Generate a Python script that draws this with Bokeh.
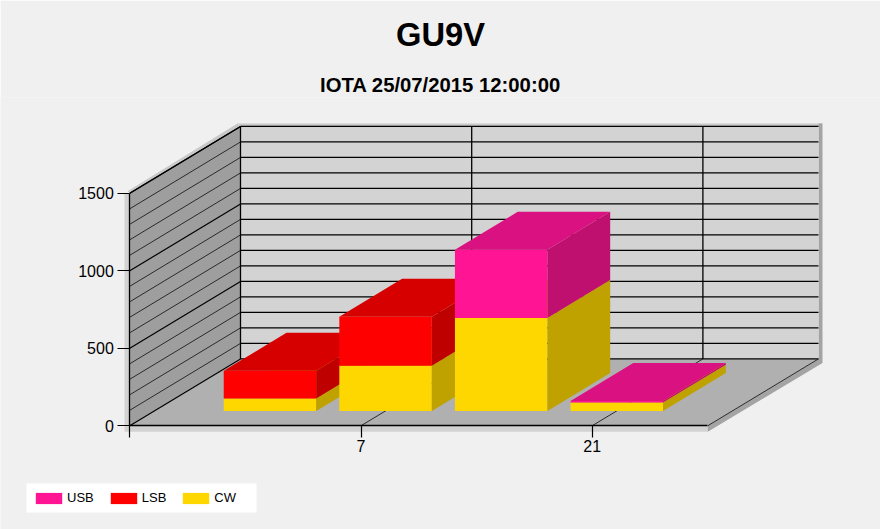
from bokeh.plotting import figure
from bokeh.models import Range1d, Legend, LegendItem, Title, FixedTicker
from bokeh.embed import file_html
from bokeh.resources import INLINE

# ---- data
series_names = ["USB", "LSB", "CW"]
series_colors = {"USB": "#ff1493", "LSB": "#ff0000", "CW": "#ffd700"}
top_colors = {"USB": "#da1180", "LSB": "#d70000", "CW": "#d9b700"}
side_colors = {"USB": "#bf0f6f", "LSB": "#bf0000", "CW": "#bfa100"}
band_pos = [1, 2, 3, 4]
cw = [80, 292, 600, 54]
lsb = [179, 316, 0, 0]
usb = [0, 0, 440, 10]
y_ticks = [0, 500, 1000, 1500]
y_minor = [100, 200, 300, 400, 600, 700, 800, 900, 1100, 1200, 1300, 1400]
x_ticks = [0, 2, 4]
x_labels = {0: "", 2: "7", 4: "21"}
title_text = "GU9V"
subtitle_text = "IOTA 25/07/2015 12:00:00"

# ---- layout of the oblique projection (page pixels)
FT = 96.0           # page y of the top of the plot frame
PXL, PXR, PYB = 0.0, 880.0, 529.0
X0, CATPX = 129.3, 115.6
Y0, VALPX = 425.0, 0.15533
DX, DY = 110.7, 67.0
NCAT = 5
YMAX = 1500
BARW, Z0, Z1 = 0.8, 0.222, 0.789
FONT = "Liberation Sans"

def ux(px):
    return (px - X0) / CATPX
def uy(py):
    return (Y0 - py) / VALPX
def px_(c, z=0.0):
    return c + z * DX / CATPX
def py_(v, z=0.0):
    return v + z * DY / VALPX

p = figure(width=880, height=529, toolbar_location=None, output_backend="svg",
           x_range=Range1d(ux(PXL), ux(PXR)), y_range=Range1d(uy(PYB), uy(FT)),
           min_border=0, background_fill_color="#f0f0f0", border_fill_color="#f0f0f0",
           outline_line_color=None)
p.grid.visible = False

p.add_layout(Title(text=subtitle_text, align="center", text_font=FONT, text_font_size="20.3px",
                   text_font_style="bold", text_color="black", standoff=4), "above")
p.add_layout(Title(text=title_text, align="center", text_font=FONT, text_font_size="32.7px",
                   text_font_style="bold", text_color="black", standoff=26, padding=(0, 0, 0, 4)), "above")

def poly(pts, color):
    return p.patch([a for a, _ in pts], [b for _, b in pts], fill_color=color, line_color=None)

def pxpoly(pts, color):
    return p.patch([ux(a) for a, _ in pts], [uy(b) for _, b in pts], fill_color=color, line_color=None)

# shaded rim
xr = X0 + NCAT * CATPX
pxpoly([(124, 192), (130, 192), (130, 425), (xr, 425), (xr, 431), (124, 431)], "#d2d2d2")
pxpoly([(127, 190), (237, 122), (240, 125), (130, 192)], "#c8c8c8")
pxpoly([(237, 122), (xr + DX + 4, 122), (xr + DX, 125), (240, 125)], "#c8c8c8")
pxpoly([(xr + DX, 122), (xr + DX + 4, 122), (xr + DX + 4, Y0 - DY + 4), (xr + 0, 431), (xr, 425), (xr + DX, Y0 - DY)], "#a4a4a4")

# walls and floor
poly([(px_(0), 0), (px_(0, 1), py_(0, 1)), (px_(NCAT, 1), py_(0, 1)), (px_(NCAT), 0)], "#b0b0b0")
poly([(px_(0), 0), (px_(0), YMAX), (px_(0, 1), py_(YMAX, 1)), (px_(0, 1), py_(0, 1))], "#9e9e9e")
poly([(px_(0, 1), py_(0, 1)), (px_(0, 1), py_(YMAX, 1)), (px_(NCAT, 1), py_(YMAX, 1)), (px_(NCAT, 1), py_(0, 1))], "#d3d3d3")

# grid
for v in y_minor + y_ticks:
    w = 1.2 if v in y_ticks else 1.0
    c = "black" if v in y_ticks else "#2a2a2a"
    p.line([px_(0), px_(0, 1)], [v, py_(v, 1)], line_color=c, line_width=w)
    p.line([px_(0, 1), px_(NCAT, 1)], [py_(v, 1), py_(v, 1)], line_color="black", line_width=1.3)
for c in x_ticks[1:]:
    p.line([px_(c), px_(c, 1)], [0, py_(0, 1)], line_color="#2a2a2a", line_width=1)
    p.line([px_(c, 1), px_(c, 1)], [py_(0, 1), py_(YMAX, 1)], line_color="black", line_width=1.3)
p.line([px_(0), px_(0, 1), px_(0, 1)], [YMAX, py_(YMAX, 1), py_(0, 1)], line_color="black", line_width=1.3)
p.line([px_(NCAT), px_(NCAT, 1)], [0, py_(0, 1)], line_color="#2a2a2a", line_width=1)

# stacked bars, painted from left to right
front = {}
for i, c in enumerate(band_pos):
    base = 0
    for name, val in (("CW", cw[i]), ("LSB", lsb[i]), ("USB", usb[i])):
        if val == 0:
            continue
        l, r = c - BARW / 2, c + BARW / 2
        t = base + val
        f = poly([(px_(l, Z0), py_(base, Z0)), (px_(l, Z0), py_(t, Z0)),
                  (px_(r, Z0), py_(t, Z0)), (px_(r, Z0), py_(base, Z0))], series_colors[name])
        front.setdefault(name, f)
        poly([(px_(r, Z0), py_(base, Z0)), (px_(r, Z0), py_(t, Z0)),
              (px_(r, Z1), py_(t, Z1)), (px_(r, Z1), py_(base, Z1))], side_colors[name])
        poly([(px_(l, Z0), py_(t, Z0)), (px_(l, Z1), py_(t, Z1)),
              (px_(r, Z1), py_(t, Z1)), (px_(r, Z0), py_(t, Z0))], top_colors[name])
        base = t

# axes drawn on the front plane
for ax in (p.xaxis[0], p.yaxis[0]):
    ax.axis_line_color = "black"
    ax.axis_line_width = 1.3
    ax.major_tick_line_color = "black"
    ax.major_tick_line_width = 1.2
    ax.major_tick_in = 0
    ax.major_tick_out = 12
    ax.minor_tick_line_color = None
    ax.major_label_text_font = FONT
    ax.major_label_text_font_size = "16px"
    ax.major_label_text_color = "black"
    ax.fixed_location = 0
p.xaxis[0].bounds = (0, NCAT)
p.yaxis[0].bounds = (0, YMAX)
p.xaxis[0].ticker = FixedTicker(ticks=x_ticks)
p.yaxis[0].ticker = FixedTicker(ticks=y_ticks)
p.xaxis[0].major_label_overrides = x_labels
p.xaxis[0].major_label_standoff = 2
p.yaxis[0].major_label_standoff = 4

# legend
p.quad(left=ux(26), right=ux(256), bottom=uy(512), top=uy(483), fill_color="white", line_color=None, level="annotation")
leg = Legend(items=[LegendItem(label=n, renderers=[front[n]]) for n in series_names],
             orientation="horizontal", location=(32, 24), background_fill_alpha=0,
             border_line_color=None, glyph_width=33, glyph_height=14, label_standoff=2,
             spacing=13, padding=6, margin=0, label_text_font=FONT, label_text_font_size="13px",
             label_text_color="black", label_height=15)
p.add_layout(leg, "center")

TEMPLATE = """<!DOCTYPE html>
<html lang="en"><head><meta charset="utf-8"><title>GU9V</title>
{{ bokeh_css | safe }}{{ bokeh_js | safe }}
<style>html,body{margin:0;background:#f0f0f0}</style></head>
<body>{{ plot_div | safe }}{{ plot_script | safe }}</body></html>
"""
open("out.html", "w").write(file_html(p, INLINE, template=TEMPLATE))
